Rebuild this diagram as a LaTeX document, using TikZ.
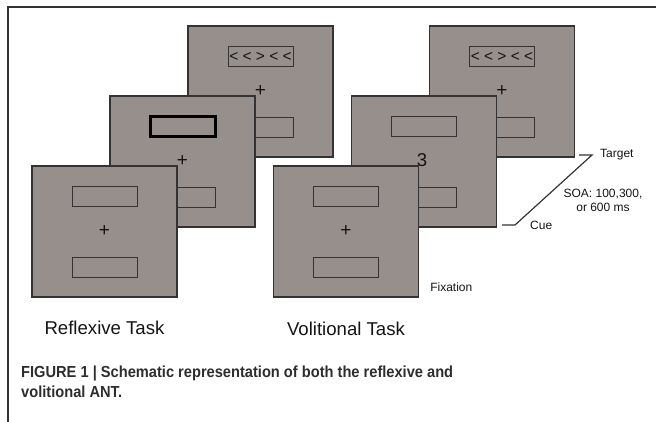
\documentclass[tikz,border=0pt]{standalone}
\usepackage{fontspec}
\setmainfont{Liberation Sans}
\newfontfamily\capfont[FakeStretch=0.915]{Liberation Sans}
\usetikzlibrary{positioning, calc}
\definecolor{panelgray}{RGB}{151,143,139}
\definecolor{panelline}{RGB}{52,50,50}
\definecolor{inkdark}{RGB}{20,20,20}
\definecolor{capgray}{RGB}{45,45,45}
\tikzset{
  panel/.style = {
    draw=panelline, fill=panelgray, line width=1.2pt, minimum width=145pt, minimum height=131pt,
    inner sep=0pt
  },
  slot/.style = {
    draw=panelline, line width=1pt, minimum width=65pt, minimum height=20pt, inner sep=0pt,
    font=\fontsize{15.5}{18}\selectfont, text=inkdark
  },
  cuedslot/.style = {slot, draw=black, line width=3pt},
  fixcross/.style = {inner sep=0pt, text=inkdark, font=\fontsize{19}{20}\selectfont},
  tasklabel/.style = {inner sep=0pt, text=inkdark, font=\fontsize{18.6}{22}\selectfont},
  smalllabel/.style = {inner sep=0pt, text=inkdark, font=\fontsize{12}{15}\selectfont},
  timeline/.style = {draw=panelline, line width=1.2pt},
}

\begin{document}
\begin{tikzpicture}[x=1pt, y=-1pt]
    \useasboundingbox (0,0) rectangle (656,422);

    % Figure frame (top rule and left rule)
    \draw[panelline, line width=1.5pt] (656,7) -- (8,7) -- (8,422);

    % Reflexive task: target, cue, fixation screens (back to front)
    \node[panel] (r3) at (260.5,91.5) {};
    \node[slot] (r3top) at ($(r3)+(0,-35)$) {< < > < <};
    \node[slot] (r3bot) at ($(r3)+(0,36)$) {};
    \node[fixcross] (r3fix) at (r3) {+};

    \node[panel] (r2) at ($(r3)+(-78,70)$) {};
    \node[cuedslot] (r2top) at ($(r2)+(0,-35)$) {};
    \node[slot] (r2bot) at ($(r2)+(0,36)$) {};
    \node[fixcross] (r2fix) at (r2) {+};

    \node[panel] (r1) at ($(r2)+(-78,70)$) {};
    \node[slot] (r1top) at ($(r1)+(0,-35)$) {};
    \node[slot] (r1bot) at ($(r1)+(0,36)$) {};
    \node[fixcross] (r1fix) at (r1) {+};

    % Volitional task: target, cue, fixation screens (back to front)
    \node[panel] (v3) at (502,91.5) {};
    \node[slot] (v3top) at ($(v3)+(0,-35)$) {< < > < <};
    \node[slot] (v3bot) at ($(v3)+(0,36)$) {};
    \node[fixcross] (v3fix) at (v3) {+};

    \node[panel] (v2) at ($(v3)+(-78,70)$) {};
    \node[slot] (v2top) at ($(v2)+(0,-35)$) {};
    \node[slot] (v2bot) at ($(v2)+(0,36)$) {};
    \node[tasklabel] (v2num) at ($(v2)+(-2,-1)$) {3};

    \node[panel] (v1) at ($(v2)+(-78,70)$) {};
    \node[slot] (v1top) at ($(v1)+(0,-35)$) {};
    \node[slot] (v1bot) at ($(v1)+(0,36)$) {};
    \node[fixcross] (v1fix) at (v1) {+};

    % Task labels
    \node[tasklabel] (rlabel) at ($(r1)+(0,96.5)$) {Reflexive Task};
    \node[tasklabel] (vlabel) at ($(v1)+(0,97)$) {Volitional Task};

    % Timeline from cue to target
    \coordinate (cueL) at (502,225);
    \coordinate (cueR) at (515,225);
    \coordinate (tgtR) at (592,155);
    \coordinate (tgtL) at (579,155);
    \draw[timeline] (cueL) -- (cueR) -- (tgtR) -- (tgtL);

    \node[smalllabel, anchor=west, right=8pt of tgtR] (target) {Target};
    \node[smalllabel, anchor=west, right=15pt of cueR] (cue) {Cue};
    \node[smalllabel, align=center] (soa) at (603,200.5) {SOA: 100,300,\\[-0.5pt]or 600 ms};
    \node[smalllabel, anchor=west] (fixation) at ($(v1.south east)+(11,-10)$) {Fixation};

    % Caption
    \node[inner sep=0pt, anchor=west, align=left, text=capgray,
          font=\capfont\bfseries\fontsize{16}{20.5}\selectfont] (caption) at (21,382)
      {FIGURE 1 | Schematic representation of both the reflexive and\\volitional ANT.};
  \end{tikzpicture}
\end{document}
